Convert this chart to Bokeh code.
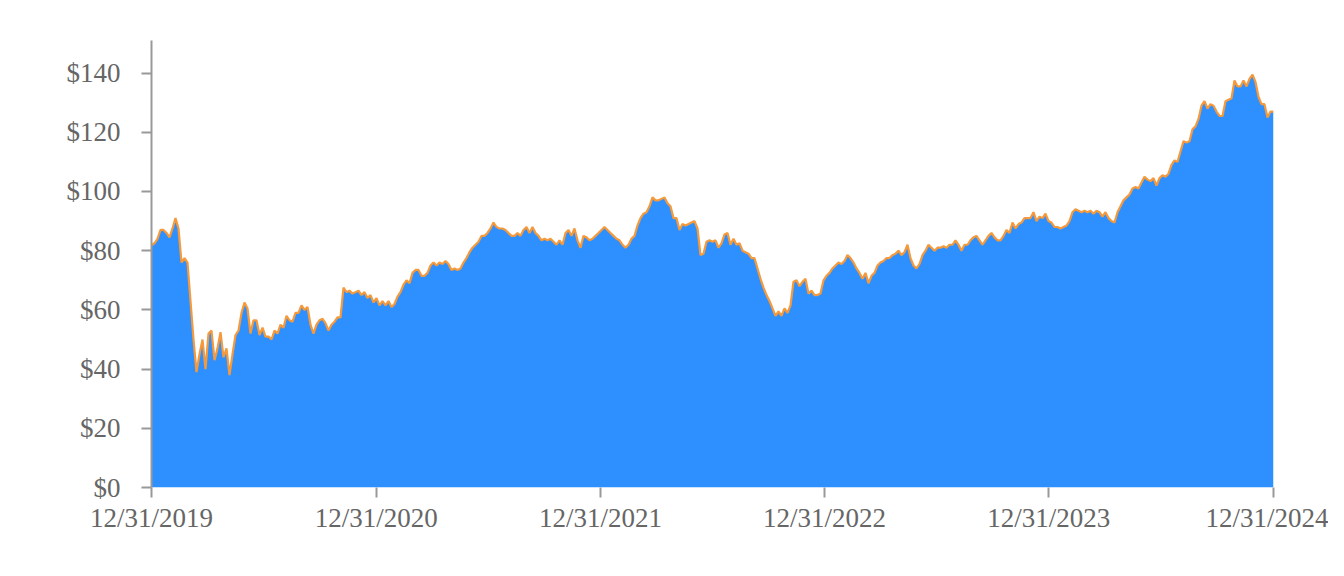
import numpy as np
import pandas as pd
from bokeh.plotting import figure
from bokeh.models import FixedTicker, NumeralTickFormatter, DatetimeTickFormatter, ColumnDataSource, Range1d
from bokeh.embed import file_html
from bokeh.resources import INLINE

start_date = "2019-12-31"
end_date = "2024-12-31"

prices = [
    81.8, 82.5, 84, 87, 87, 86, 84.5, 87.5, 91, 87.5, 76, 77.5, 76, 63, 50, 39, 45, 50, 40, 52,
    53, 43, 47, 52.5, 44, 47, 38, 45, 51.5, 53, 59, 62.5, 60.5, 52, 56.5, 56.5, 51.5, 54, 51, 51,
    50, 53, 52, 55, 54, 58, 56.5, 56, 59, 59, 61.5, 60, 61, 55, 52, 55, 56.5, 57, 55.5, 53,
    55, 56, 57.5, 57.5, 67.5, 66, 66.5, 65.5, 66, 66.5, 65, 66, 64, 65, 62.5, 64, 61.5, 63, 61.5, 63,
    61, 62, 64.5, 66, 68.5, 70, 69, 72.5, 73.5, 73.5, 71.5, 71.5, 72.5, 75, 76, 75, 76, 75.5, 76.5, 75.5,
    73.5, 74, 73.5, 74, 76, 77.5, 79.5, 81, 82, 83, 85, 85, 86, 87.5, 89.5, 88, 87.5, 87.5, 87, 86,
    85, 85, 86, 85, 87, 88, 86, 88, 86, 85, 83.5, 84, 83.5, 84, 83, 82, 83.5, 82, 86, 87,
    85, 87.5, 83.5, 81, 85, 84.5, 83.5, 84, 85, 86, 87, 88, 87, 86, 85, 84, 83.5, 82, 81, 82,
    84, 85, 88.5, 91, 92.5, 93, 95, 98, 97, 97, 97.5, 98, 96, 95, 91, 91, 87, 89, 88.5, 89,
    89.5, 90, 87.5, 78.5, 79, 83, 83.5, 83, 83.5, 81, 82.5, 85.5, 86, 82, 84, 82, 82.5, 80, 79.5, 79,
    77.5, 77.5, 74, 70.5, 67.5, 65, 63, 60.5, 58, 59.5, 58, 60.5, 59, 61.5, 69.5, 70, 68, 69.5, 70.5, 65.5,
    66.5, 65, 65, 65.5, 70, 71.5, 72.5, 74, 75, 76, 75.5, 76.5, 78.5, 77.5, 76, 74, 72.5, 70.5, 72.5, 69,
    71.5, 72.5, 75, 76, 76.5, 77.5, 77.5, 78.5, 79, 80, 78.5, 79.5, 82, 77.5, 75, 74, 75.5, 78.5, 80, 82,
    81, 80, 81, 81, 81.5, 81, 82, 82, 83.5, 82, 80, 82, 82, 83.5, 84.5, 85, 83.5, 82, 83.5, 85,
    86, 84.5, 83.5, 83.5, 85, 87, 86, 89.5, 87.5, 89, 89.5, 91, 91, 91, 93, 90, 91.5, 91, 92.5, 90,
    89.5, 88, 88, 87.5, 88, 88.5, 90, 93, 94, 93.5, 93, 93.5, 93, 93.5, 92.5, 93.5, 93, 91.5, 93, 91,
    90, 89.5, 93, 95, 97, 98, 99, 101, 101.5, 101, 103, 105, 104, 103.5, 104.5, 102, 104.5, 105.5, 105, 106,
    109, 110.5, 110, 113.5, 117, 116.5, 117, 121, 122, 124.5, 129, 130.5, 128, 129.5, 129, 127, 125.5, 125.5, 130.5, 131,
    131.5, 137.5, 135.5, 135.5, 137.5, 135.5, 138, 139.5, 137, 132, 129.5, 129.5, 125, 127, 127,
]

dates = pd.date_range(start_date, end_date, periods=len(prices))
y_ticks = [0, 20, 40, 60, 80, 100, 120, 140]
x_tick_dates = ["2019-12-31", "2020-12-31", "2021-12-31", "2022-12-31", "2023-12-31", "2024-12-31"]

source = ColumnDataSource(dict(date=dates, price=prices, base=[0] * len(prices)))

p = figure(width=1328, height=567, x_axis_type="datetime", output_backend="svg",
           toolbar_location=None, min_border_left=151, min_border_right=55,
           min_border_top=40, min_border_bottom=80)
p.x_range = Range1d(pd.Timestamp(start_date), pd.Timestamp(end_date))
p.y_range = Range1d(0, 151)

p.varea(x="date", y1="base", y2="price", source=source, fill_color="#2E8FFF")
p.line(x="date", y="price", source=source, line_color="#F59A3C", line_width=2.2)

p.xgrid.visible = False
p.ygrid.visible = False
p.outline_line_color = None
p.background_fill_color = "white"
p.border_fill_color = "white"

tick_ms = [pd.Timestamp(d).value // 10**6 for d in x_tick_dates]
p.xaxis.ticker = FixedTicker(ticks=tick_ms)
fmt = "%m/%d/%Y"
p.xaxis.formatter = DatetimeTickFormatter(milliseconds=fmt, seconds=fmt, minsec=fmt, minutes=fmt,
                                          hourmin=fmt, hours=fmt, days=fmt, months=fmt, years=fmt)
p.yaxis.ticker = FixedTicker(ticks=y_ticks)
p.yaxis.formatter = NumeralTickFormatter(format="$0")

for ax in (p.xaxis, p.yaxis):
    ax.major_label_text_font = "Liberation Serif"
    ax.major_label_text_font_size = "27px"
    ax.major_label_text_color = "#666666"
    ax.axis_line_color = "#999999"
    ax.axis_line_width = 2
    ax.major_tick_line_color = "#999999"
    ax.major_tick_line_width = 2
    ax.major_tick_in = 0
    ax.major_tick_out = 10
    ax.minor_tick_line_color = None

p.xaxis.axis_line_color = None
p.yaxis.major_label_standoff = 21
p.xaxis.major_label_standoff = 5

open("out.html", "w").write(file_html(p, INLINE))
